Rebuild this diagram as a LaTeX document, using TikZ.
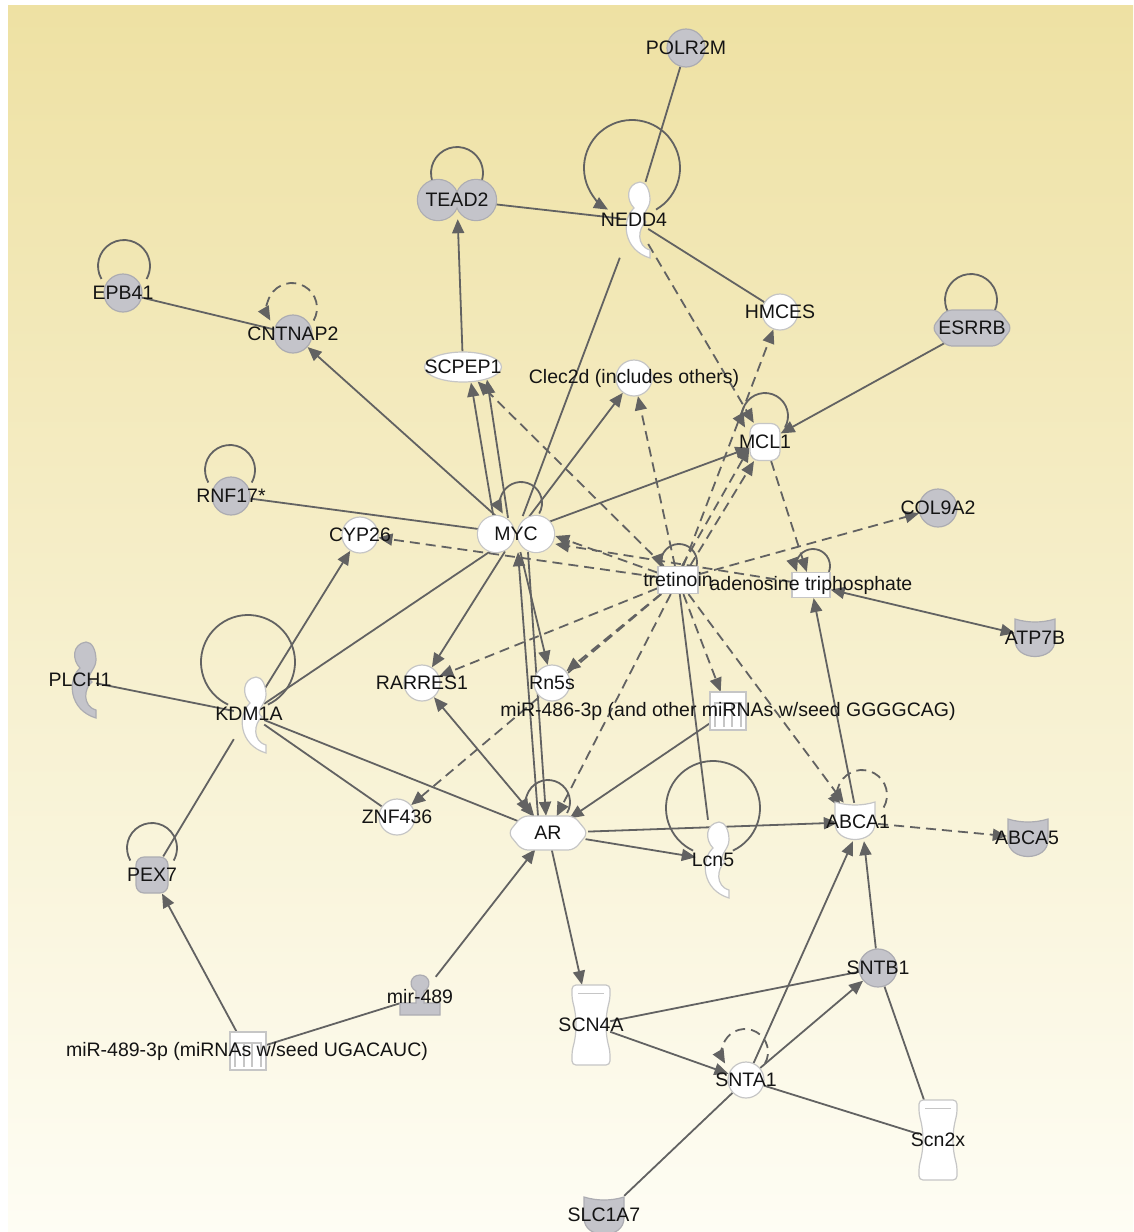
\documentclass[tikz,border=0pt]{standalone}
\usepackage{fontspec}
\setmainfont{Liberation Sans}
\usetikzlibrary{arrows.meta,shapes.geometric}
\definecolor{bgtop}{RGB}{238,225,163}
\definecolor{bgbot}{RGB}{254,253,244}
\definecolor{edgec}{RGB}{98,98,98}
\definecolor{ipagray}{RGB}{196,196,202}
\definecolor{ipagrayb}{RGB}{172,172,178}
\definecolor{ipawb}{RGB}{198,198,198}
\definecolor{txt}{RGB}{20,20,20}
\pgfdeclarelayer{bg}
\pgfdeclarelayer{edges}
\pgfsetlayers{bg,edges,main}

\tikzset{
 gfill/.style={fill=ipagray, draw=ipagrayb, line width=1.2pt},
 wfill/.style={fill=white, draw=ipawb, line width=1.2pt},
 gcirc/.style={circle, gfill, minimum size=38pt, inner sep=0pt},
 wcirc/.style={circle, wfill, minimum size=36pt, inner sep=0pt},
 hid/.style={rectangle, draw=none, fill=none, inner sep=0pt},
 lbl/.style={font=\fontsize{19.5}{20}\selectfont, text=txt, inner sep=0pt},
 every label/.style={lbl},
 rel/.style={draw=edgec, line width=1.8pt},
 act/.style={rel, -{Triangle[length=14pt,width=12pt]}},
 twoway/.style={rel, {Triangle[length=14pt,width=12pt]}-{Triangle[length=14pt,width=12pt]}},
 dsh/.style={dash pattern=on 10pt off 6pt},
}

\newcommand{\ipaCres}[3]{\path[#3, shift={(#1,#2)}] (4,-38) .. controls (-10,-36) and (-10,-20) .. (-2,-12) .. controls (-15,0) and (-13,30) .. (14,38) -- (14,30) .. controls (0,26) and (2,8) .. (10,2) .. controls (2,-4) and (14,-10) .. (14,-20) .. controls (14,-30) and (10,-38) .. (4,-38) -- cycle;}
\newcommand{\ipaCyl}[3]{\path[#3, shift={(#1,#2)}, rounded corners=4pt] (-19,-40) -- (19,-40) -- (19,-26) .. controls (14,-8) and (14,8) .. (19,26) -- (19,40) -- (-19,40) -- (-19,26) .. controls (-14,8) and (-14,-8) .. (-19,-26) -- cycle;
 \draw[ipawb, line width=1pt, shift={(#1,#2)}] (-13,-32) -- (13,-32);}
\newcommand{\ipaCup}[3]{\path[#3, shift={(#1,#2)}] (-20,-19) .. controls (-7,-15) and (7,-15) .. (20,-19) -- (20,2) .. controls (20,24) and (-20,24) .. (-20,2) -- cycle;}
\newcommand{\ipaHex}[5]{\path[#5, shift={(#1,#2)}, rounded corners=6pt] (-#3,0) -- (-#3+14,-#4) -- (#3-14,-#4) -- (#3,0) -- (#3-14,#4) -- (-#3+14,#4) -- cycle;}
\newcommand{\ipaMir}[2]{\path[wfill, shift={(#1,#2)}] (-18,-19) rectangle (18,19);
 \draw[ipawb, line width=1.6pt, shift={(#1,#2)}] (-14,-8) -- (14,-8) (-13,-8) -- (-13,16) (-4,-8) -- (-4,16) (4,-8) -- (4,16) (13,-8) -- (13,16);}
\newcommand{\ipaPin}[2]{\path[gfill, shift={(#1,#2)}] (-4,-6) .. controls (-12,-10) and (-10,-22) .. (0,-22) .. controls (10,-22) and (12,-10) .. (4,-6) -- (4,6) -- (20,6) -- (20,18) -- (-20,18) -- (-20,6) -- (-4,6) -- cycle;}
\newcommand{\ipaDumb}[6]{\path[draw=#6, line width=2.4pt] (#1-#3,#2) circle (#4) (#1+#3,#2) circle (#4);
 \path[fill=#5] (#1-#3,#2) circle (#4) (#1+#3,#2) circle (#4);}

\begin{document}
\begin{tikzpicture}[x=1pt,y=-1pt]
\useasboundingbox (0,0) rectangle (1133,1232);
\begin{pgfonlayer}{bg}
\fill[white] (0,0) rectangle (1133,1232);
\shade[top color=bgtop, bottom color=bgbot] (8,5) rectangle (1133,1232);
\end{pgfonlayer}

% ---------- nodes ----------
\node[gcirc, label=center:POLR2M] (polr2m) at (686,48) {};
\ipaDumb{457}{200}{19}{20}{ipagray}{ipagrayb}
\node[hid, ellipse, minimum width=80pt, minimum height=38pt, label=center:TEAD2] (tead2) at (457,200) {};
\ipaCres{636}{220}{wfill}
\node[hid, minimum width=28pt, minimum height=76pt, label=center:NEDD4] (nedd4) at (634,220) {};
\node[gcirc, label=center:EPB41] (epb41) at (123,293) {};
\node[gcirc, label=center:CNTNAP2] (cntnap2) at (293,334) {};
\node[wcirc, label=center:HMCES] (hmces) at (780,312) {};
\ipaHex{972}{328}{40}{18}{gfill}
\node[hid, ellipse, minimum width=80pt, minimum height=37pt, label=center:ESRRB] (esrrb) at (972,328) {};
\node[ellipse, wfill, minimum width=77pt, minimum height=30pt, inner sep=0pt, label=center:SCPEP1] (scpep1) at (463,367) {};
\node[wcirc, label={center:{Clec2d (includes others)}}] (clec2d) at (634,378) {};
\node[rectangle, rounded corners=9pt, wfill, minimum width=30pt, minimum height=37pt, inner sep=0pt, label=center:MCL1] (mcl1) at (765,442) {};
\node[gcirc, label=center:RNF17*] (rnf17) at (231,496) {};
\node[gcirc, label=center:COL9A2] (col9a2) at (938,508) {};
\ipaDumb{516}{534}{20}{18}{white}{ipawb}
\node[hid, ellipse, minimum width=78pt, minimum height=36pt, label=center:MYC] (myc) at (516,534) {};
\node[wcirc, label=center:CYP26] (cyp26) at (360,535) {};
\node[rectangle, wfill, minimum width=40pt, minimum height=27pt, inner sep=0pt, label=center:tretinoin] (tret) at (678,580) {};
\node[rectangle, wfill, minimum width=38pt, minimum height=25pt, inner sep=0pt, label={center:{adenosine triphosphate}}] (atp) at (811,585) {};
\ipaCup{1035}{638}{gfill}
\node[hid, minimum width=40pt, minimum height=38pt, label=center:ATP7B] (atp7b) at (1035,638) {};
\ipaCres{82}{680}{gfill}
\node[hid, minimum width=32pt, minimum height=78pt, label=center:PLCH1] (plch1) at (80,680) {};
\ipaCres{252}{715}{wfill}
\node[hid, minimum width=30pt, minimum height=78pt, label=center:KDM1A] (kdm1a) at (249,714) {};
\node[wcirc, label=center:RARRES1] (rarres1) at (422,683) {};
\node[wcirc, label=center:Rn5s] (rn5s) at (552,683) {};
\ipaMir{728}{711}
\node[hid, minimum width=36pt, minimum height=38pt, label={center:{miR-486-3p (and other miRNAs w/seed GGGGCAG)}}] (mir486) at (728,711) {};
\node[wcirc, label=center:ZNF436] (znf436) at (397,817) {};
\ipaHex{548}{833}{40}{17}{wfill}
\node[hid, ellipse, minimum width=80pt, minimum height=34pt, label=center:AR] (ar) at (548,833) {};
\ipaCres{715}{860}{wfill}
\node[hid, minimum width=34pt, minimum height=80pt, label=center:Lcn5] (lcn5) at (713,860) {};
\ipaCup{855}{821}{wfill}
\node[hid, minimum width=40pt, minimum height=38pt, label=center:ABCA1] (abca1) at (858,822) {};
\ipaCup{1028}{838}{gfill}
\node[hid, minimum width=40pt, minimum height=38pt, label=center:ABCA5] (abca5) at (1027,838) {};
\node[rectangle, rounded corners=8pt, gfill, minimum width=32pt, minimum height=36pt, inner sep=0pt, label=center:PEX7] (pex7) at (152,875) {};
\node[gcirc, label=center:SNTB1] (sntb1) at (878,968) {};
\ipaPin{420}{997}
\node[hid, minimum width=40pt, minimum height=40pt, label=center:mir-489] (mir489) at (420,997) {};
\ipaCyl{591}{1025}{wfill}
\node[hid, minimum width=38pt, minimum height=80pt, label=center:SCN4A] (scn4a) at (591,1025) {};
\ipaMir{248}{1051}
\node[hid, minimum width=36pt, minimum height=38pt, label={center:{miR-489-3p (miRNAs w/seed UGACAUC)}}] (mir4893p) at (247,1051) {};
\node[wcirc, label=center:SNTA1] (snta1) at (746,1080) {};
\ipaCyl{938}{1140}{wfill}
\node[hid, minimum width=38pt, minimum height=80pt, label=center:Scn2x] (scn2x) at (938,1140) {};
\ipaCup{604}{1216}{gfill}
\node[hid, minimum width=40pt, minimum height=38pt, label=center:SLC1A7] (slc1a7) at (604,1215) {};

% ---------- connectors ----------
\begin{pgfonlayer}{edges}
% self loops
\draw[rel] (457,173) ++(150:26) arc[start angle=150, end angle=390, radius=26];
\draw[act] (632,168) ++(60:48) arc[start angle=60, end angle=-240, radius=48];
\draw[rel] (124,266) ++(150:26) arc[start angle=150, end angle=390, radius=26];
\draw[act, dsh] (292,308) ++(30:25) arc[start angle=30, end angle=-210, radius=25];
\draw[rel] (971,300) ++(150:26) arc[start angle=150, end angle=390, radius=26];
\draw[act] (765,416) ++(30:23) arc[start angle=30, end angle=-210, radius=23];
\draw[rel] (230,470) ++(150:25) arc[start angle=150, end angle=390, radius=25];
\draw[act] (521,503) ++(30:21) arc[start angle=30, end angle=-210, radius=21];
\draw[act] (679,562) ++(20:18) arc[start angle=20, end angle=-200, radius=18];
\draw[act] (813,566) ++(20:17) arc[start angle=20, end angle=-200, radius=17];
\draw[rel] (248,662) ++(65:47) arc[start angle=65, end angle=-245, radius=47];
\draw[act] (548,802) ++(30:22) arc[start angle=30, end angle=-210, radius=22];
\draw[rel] (713,808) ++(65:47) arc[start angle=65, end angle=-245, radius=47];
\draw[act, dsh] (862,795) ++(30:25) arc[start angle=30, end angle=-210, radius=25];
\draw[rel] (152,848) ++(150:25) arc[start angle=150, end angle=390, radius=25];
\draw[act, dsh] (745,1052) ++(30:23) arc[start angle=30, end angle=-210, radius=23];

% plain relations
\draw[rel] (polr2m) -- (nedd4);
\draw[rel] (tead2) -- (nedd4);
\draw[rel] (nedd4) -- (hmces);
\draw[rel] (myc) -- (nedd4);
\draw[rel] (epb41) -- (cntnap2);
\draw[rel] (rnf17) -- (myc);
\draw[rel] (kdm1a) -- (myc);
\draw[rel] (plch1) -- (kdm1a);
\draw[rel] (kdm1a) -- (znf436);
\draw[rel] (kdm1a) -- (ar);
\draw[rel] (kdm1a) -- (pex7);
\draw[rel] (tret) -- (lcn5);
\draw[rel] (mir4893p) -- (mir489);
\draw[rel] (scn4a) -- (sntb1);
\draw[rel] (sntb1) -- (scn2x);
\draw[rel] (snta1) -- (scn2x);
\draw[rel] (snta1) -- (slc1a7);

% solid arrows
\draw[act] ([xshift=-22pt,yshift=-4pt]myc.north) -- ([xshift=8pt]scpep1.south);
\draw[act] ([xshift=-8pt,yshift=-2pt]myc.north) -- ([xshift=24pt,yshift=3pt]scpep1.south);
\draw[act] (scpep1) -- (tead2);
\draw[act] (myc) -- (cntnap2);
\draw[act] (myc) -- (clec2d);
\draw[act] (myc) -- (mcl1);
\draw[act] (esrrb) -- (mcl1);
\draw[act] (myc) -- (rarres1);
\draw[act] (myc) -- (rn5s);
\draw[act] ([xshift=-10pt]ar.north) -- ([xshift=2pt]myc.south);
\draw[act] ([xshift=12pt]myc.south) -- ([xshift=-2pt]ar.north);
\draw[act] (kdm1a) -- (cyp26);
\draw[twoway] (rarres1) -- (ar);
\draw[act] (mir486) -- (ar);
\draw[act] (mir489) -- (ar);
\draw[act] (ar) -- (abca1);
\draw[act] (ar) -- (lcn5);
\draw[act] (ar) -- (scn4a);
\draw[act] (abca1) -- (atp);
\draw[twoway] (atp) -- (atp7b);
\draw[act] (mir4893p) -- (pex7);
\draw[act] (scn4a) -- (snta1);
\draw[act] (snta1) -- (sntb1);
\draw[act] (snta1) -- ([xshift=-5pt]abca1.south);
\draw[act] (sntb1) -- ([xshift=6pt]abca1.south);

% dashed arrows
\draw[act, dsh] (nedd4) -- (mcl1);
\draw[act, dsh] (tret) -- (scpep1);
\draw[act, dsh] (tret) -- (clec2d);
\draw[act, dsh] ([xshift=4pt]tret.north) -- (mcl1.200);
\draw[act, dsh] ([xshift=12pt]tret.north) -- (mcl1.-120);
\draw[act, dsh] (tret) -- (hmces);
\draw[act, dsh] (mcl1) -- (atp);
\draw[act, dsh] (tret) -- (col9a2);
\draw[act, dsh] (tret) -- (cyp26);
\draw[act, dsh] (tret) -- ([yshift=-2pt]myc.east);
\draw[act, dsh] (atp) -- ([yshift=-10pt]myc.east);
\draw[act, dsh] (tret) -- (rarres1);
\draw[act, dsh] (tret) -- (rn5s);
\draw[act, dsh] (tret) -- (ar);
\draw[act, dsh] (tret) -- (mir486);
\draw[act, dsh] (tret) -- (abca1);
\draw[act, dsh] (tret) -- (znf436);
\draw[act, dsh] (abca1) -- (abca5);
\end{pgfonlayer}
\end{tikzpicture}
\end{document}
